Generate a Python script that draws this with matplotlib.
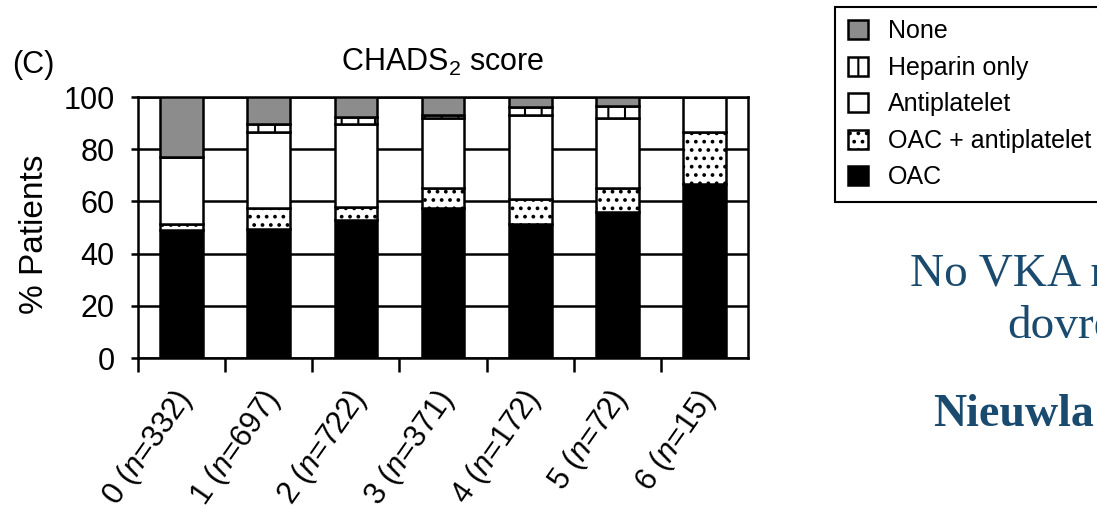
import numpy as np
import matplotlib
matplotlib.use('Agg')
import matplotlib.pyplot as plt

plt.rcParams['font.family'] = ['Liberation Sans', 'DejaVu Sans']
plt.rcParams['mathtext.fontset'] = 'custom'
plt.rcParams['mathtext.rm'] = 'Liberation Sans'
plt.rcParams['mathtext.it'] = 'Liberation Sans:italic'
plt.rcParams['hatch.linewidth'] = 1.5

# CHADS2 score groups and patient counts
scores = ['0', '1', '2', '3', '4', '5', '6']
n_pat = [332, 697, 722, 371, 172, 72, 15]

# % patients per treatment (bottom -> top of each bar)
oac          = [49.0, 49.5, 53.0, 57.5, 51.5, 56.0, 66.7]
oac_ap       = [2.5, 8.0, 5.0, 7.5, 9.5, 9.0, 20.0]
antiplatelet = [25.5, 29.0, 31.5, 27.0, 32.0, 27.0, 13.3]
heparin      = [0.0, 3.0, 3.0, 1.0, 3.0, 4.5, 0.0]
no_treat     = [23.0, 10.5, 7.5, 7.0, 4.0, 3.5, 0.0]

tick_labels = [s + r' ($\mathit{n}$=' + str(n) + ')' for s, n in zip(scores, n_pat)]

fig = plt.figure(figsize=(10.97, 5.16), dpi=100)
ax = fig.add_axes([0.1258, 0.3062, 0.5561, 0.5058])

x = np.arange(len(scores))
series = [
    (oac, 'OAC', 'black', ''),
    (oac_ap, 'OAC + antiplatelet', 'white', '..'),
    (antiplatelet, 'Antiplatelet', 'white', ''),
    (heparin, 'Heparin only', 'white', '|'),
    (no_treat, 'None', '#8c8c8c', ''),
]
bottom = np.zeros(len(x))
handles = []
for vals, lab, col, hat in series:
    b = ax.bar(x, vals, 0.49, bottom=bottom, color=col, edgecolor='black',
               linewidth=1.8, hatch=hat, label=lab, zorder=3)
    bottom += np.array(vals)
    handles.append(b)

ax.set_xlim(-0.5, 6.5)
ax.set_ylim(0, 100)
ax.set_yticks([0, 20, 40, 60, 80, 100])
ax.yaxis.grid(True, color='black', lw=1.8)
ax.set_axisbelow(True)

ax.set_xticks(x + 0.21)
ax.set_xticklabels(tick_labels, rotation=55, ha='right')
ax.set_xticks(x - 0.5, minor=True)
ax.tick_params(axis='x', which='major', length=0, pad=19, labelsize=22)
ax.tick_params(axis='x', which='minor', length=10, width=1.8)
ax.tick_params(axis='y', length=5, width=1.8, pad=12, labelsize=22)
for sp in ax.spines.values():
    sp.set_linewidth(1.8)

ax.set_ylabel('% Patients', fontsize=24)
ax.yaxis.set_label_coords(-0.144, 0.475)
ax.set_title(r'CHADS$_\mathrm{2}$ score', fontsize=22, pad=19)
fig.text(12/1097, 1 - 73/516, '(C)', fontsize=22, ha='left', va='baseline')

leg = fig.legend(handles[::-1], [s[1] for s in series][::-1], loc='upper left',
                 bbox_to_anchor=(835/1097, 1 - 7/516), frameon=True, fancybox=False,
                 edgecolor='black', framealpha=1, fontsize=18, handlelength=0.8,
                 handleheight=0.8, handletextpad=0.8, labelspacing=0.5,
                 borderpad=0.5, borderaxespad=0)
leg.get_frame().set_linewidth(1.5)

navy = '#1a4a6e'
fig.text(910/1097, 1 - 285/516, 'No VKA n', fontsize=34, color=navy,
         family='Liberation Serif', ha='left', va='baseline')
fig.text(1007/1097, 1 - 338/516, 'dovre', fontsize=34, color=navy,
         family='Liberation Serif', ha='left', va='baseline')
fig.text(933/1097, 1 - 426/516, 'Nieuwla', fontsize=33, color=navy,
         family='Liberation Serif', weight='bold', ha='left', va='baseline')

fig.savefig('out.png', dpi=100)
